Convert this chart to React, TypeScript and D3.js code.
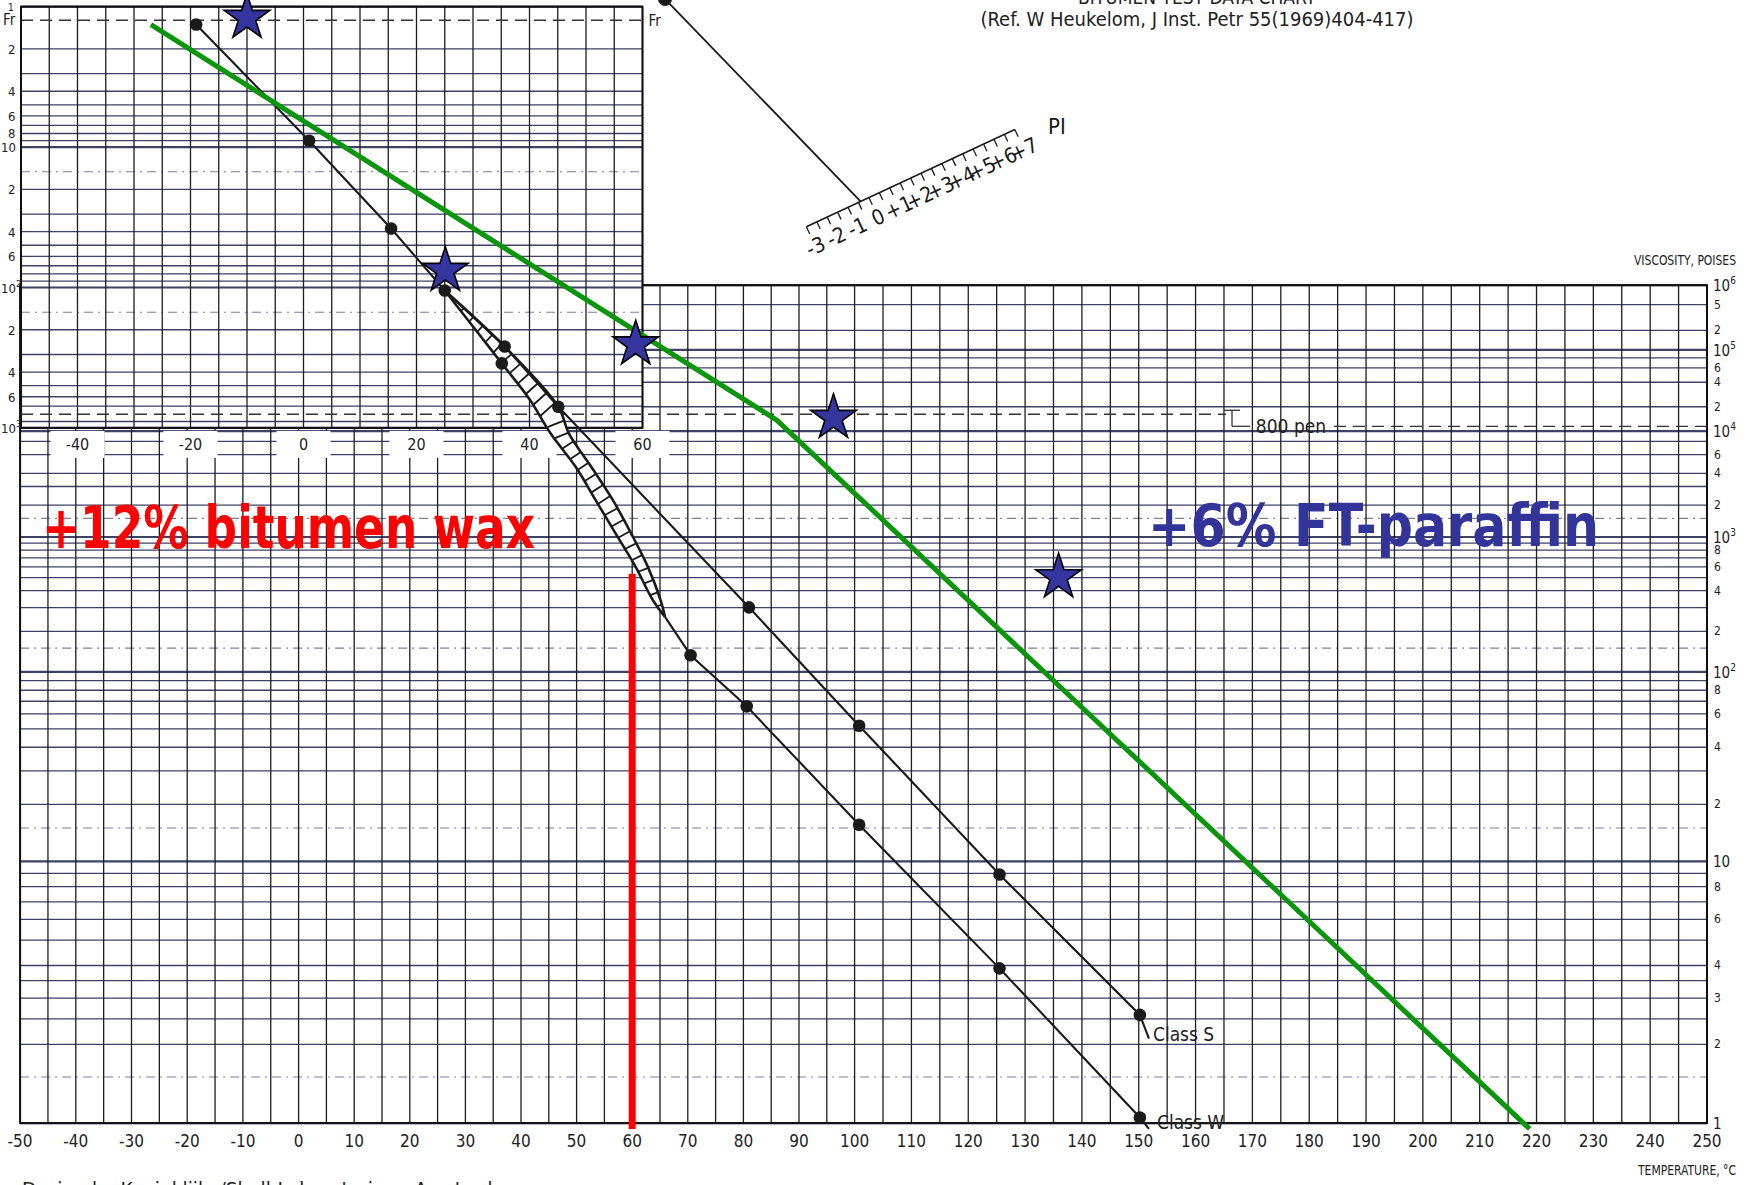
import React, { useEffect } from "react";
import * as d3 from "d3";

// ---------------- data ----------------
const bottomTempLabels = [-50, -40, -30, -20, -10, 0, 10, 20, 30, 40, 50, 60, 70, 80, 90, 100, 110, 120, 130, 140, 150, 160, 170, 180, 190, 200, 210, 220, 230, 240, 250];
const topTempLabels = [-40, -20, 0, 20, 40, 60];

// penetration axis labels (upper-left box)  [value, text, superscript]
const penLabels: [number, string, string][] = [
  [2, "2", ""], [4, "4", ""], [6, "6", ""], [8, "8", ""], [10, "10", ""],
  [20, "2", ""], [40, "4", ""], [60, "6", ""], [100, "10", "2"],
  [200, "2", ""], [400, "4", ""], [600, "6", ""], [1000, "10", "3"],
];
const penGridSteps = [2, 3, 4, 5, 6, 7, 8, 9];
const penDashDot = [15, 150];
const fraassPen = 1.25;
const pen800 = 800;

// viscosity axis (poises)
const viscDecadeLabels: [number, string, string][] = [
  [1, "1", ""], [10, "10", ""], [100, "10", "2"], [1000, "10", "3"],
  [1e4, "10", "4"], [1e5, "10", "5"], [1e6, "10", "6"],
];
const viscMinorLabels: [number, string][] = [
  [2, "2"], [3, "3"], [4, "4"], [6, "6"], [8, "8"],
  [20, "2"], [40, "4"], [60, "6"], [80, "8"],
  [200, "2"], [400, "4"], [600, "6"], [800, "8"],
  [2000, "2"], [4000, "4"], [6000, "6"],
  [2e4, "2"], [4e4, "4"], [6e4, "6"],
  [2e5, "2"], [5e5, "5"],
];
const viscGridSteps = [
  [1.5, 2, 2.5, 3, 3.5, 4, 5, 6, 7, 8, 9],
  [1.5, 2, 3, 4, 5, 6, 7, 8, 9],
  [1.5, 2, 3, 4, 5, 6, 7, 8, 9],
  [1.5, 2, 3, 4, 6, 8],
  [2, 4, 6, 8],
  [2, 5],
];

// upper-box points: [temperature on top scale °C, penetration 0.1 mm]
// lower-chart points: [temperature °C, viscosity poise]
const classSPenDots: [number, number][] = [[-19, 1.34], [1, 9], [15.5, 38], [25, 105], [35.6, 263], [45.1, 707]];
const classSViscDots: [number, number][] = [[81, 301], [100.8, 52], [125.5, 8.9], [150.2, 2.59]];
const classSViscEnd: [number, number] = [151.8, 2.1];

const classWPenDots: [number, number][] = [[35.1, 347]];
const classWViscDots: [number, number][] = [[70.5, 133], [80.6, 65.8], [100.8, 15.6], [125.5, 3.9], [150.2, 1.05]];
const classWViscEnd: [number, number] = [151.8, 0.95];

const bandLeftPen: [number, number][] = [[25, 105], [35.1, 347], [40.1, 633]];
const bandLeftVisc: [number, number][] = [[45.3, 9550], [49.8, 4630], [53.4, 2240], [57.0, 1083], [60.6, 603], [63.7, 341], [65.9, 256]];
const bandRightPen: [number, number][] = [[25, 105], [35.6, 263], [45.1, 707]];
const bandRightVisc: [number, number][] = [[48.6, 9550], [52.6, 4630], [56.5, 2240], [59.8, 1083], [62.8, 603], [65.1, 341], [65.9, 256]];

const greenPen: [number, number][] = [[-27, 1.34]];
const greenVisc: [number, number][] = [[86, 13700], [218.8, 0.95]];

const starsPen: [number, number][] = [[-10, 1.2], [25.1, 76], [58.8, 254]];
const starsVisc: [number, number][] = [[96.2, 14600], [135.9, 504]];

const redLineTemp = 60;
const redLineVisc: [number, number] = [533, 0.95];

const piTickValues = d3.range(-3, 7.01, 0.5);
const piLabelValues = [-3, -2, -1, 0, 1, 2, 3, 4, 5, 6, 7];
const piReading = -0.4;

// ---------------- scales ----------------
const W = 1747;
const H = 1185;
const xBot = d3.scaleLinear().domain([-50, 0, 100, 250]).range([20.1, 298.6, 854.6, 1707]);
const xTop = d3.scaleLinear().domain([-50, 60]).range([21, 642.5]);
const yPen = d3.scaleLog().domain([1, 1000]).range([6.7, 427.9]);
const yViscLog = d3.scaleLinear().domain([0, 1, 2, 3, 4, 5, 6]).range([1123.1, 861.3, 671.9, 537.0, 431.2, 349.9, 285.2]);
const yVisc = (v: number) => yViscLog(Math.log10(v));

const penPt = (d: [number, number]): [number, number] => [xTop(d[0]), yPen(d[1])];
const viscPt = (d: [number, number]): [number, number] => [xBot(d[0]), yVisc(d[1])];

const FONT = "'Liberation Sans Narrow','DejaVu Sans Condensed','Liberation Sans',sans-serif";
const COMIC = "'Comic Sans MS','DejaVu Sans',sans-serif";
const HCOL = "#2b2d55";
const VCOL = "#1d1d22";

function resample(pts: [number, number][], n: number): [number, number][] {
  const seg: number[] = [];
  let total = 0;
  for (let i = 1; i < pts.length; i++) {
    const l = Math.hypot(pts[i][0] - pts[i - 1][0], pts[i][1] - pts[i - 1][1]);
    seg.push(l);
    total += l;
  }
  const out: [number, number][] = [];
  for (let k = 0; k <= n; k++) {
    let target = (total * k) / n;
    let i = 0;
    while (i < seg.length - 1 && target > seg[i]) {
      target -= seg[i];
      i++;
    }
    const f = seg[i] ? Math.min(1, target / seg[i]) : 0;
    out.push([pts[i][0] + (pts[i + 1][0] - pts[i][0]) * f, pts[i][1] + (pts[i + 1][1] - pts[i][1]) * f]);
  }
  return out;
}

function closestOnPolyline(p: [number, number], poly: [number, number][]): [number, number] {
  let best: [number, number] = poly[0];
  let bd = Infinity;
  for (let i = 1; i < poly.length; i++) {
    const a = poly[i - 1], b = poly[i];
    const dx = b[0] - a[0], dy = b[1] - a[1];
    const len2 = dx * dx + dy * dy || 1;
    let t = ((p[0] - a[0]) * dx + (p[1] - a[1]) * dy) / len2;
    t = Math.max(0, Math.min(1, t));
    const q: [number, number] = [a[0] + dx * t, a[1] + dy * t];
    const d = Math.hypot(q[0] - p[0], q[1] - p[1]);
    if (d < bd) {
      bd = d;
      best = q;
    }
  }
  return best;
}

const line = d3.line<[number, number]>();
const smooth = d3.line<[number, number]>().curve(d3.curveCatmullRom.alpha(0.5));

export default function App() {
  useEffect(() => {
    document.body.style.margin = "0";
  }, []);

  const lowerLeft = xBot(-50);
  const lowerRight = xBot(250);
  const lowerTop = yVisc(1e6);
  const lowerBottom = yVisc(1);
  const boxLeft = xTop(-50);
  const boxRight = xTop(60);
  const boxTop = yPen(1);
  const boxBottom = yPen(1000);

  const hLines: { y: number; w: number; dash?: string }[] = [];
  for (let dec = 0; dec <= 6; dec++) {
    hLines.push({ y: yVisc(Math.pow(10, dec)), w: 2.2 });
    if (dec < 6) {
      viscGridSteps[dec].forEach((m) => {
        hLines.push({ y: yVisc(m * Math.pow(10, dec)), w: m === 1.5 ? 1.1 : 1.3, dash: m === 1.5 ? "9 5 2 5" : undefined });
      });
    }
  }
  const vTemps = d3.range(-50, 251, 5);
  const topTemps = d3.range(-50, 61, 5);

  const penLines: { y: number; w: number; dash?: string }[] = [];
  [1, 10, 100, 1000].forEach((d) => penLines.push({ y: yPen(d), w: 2.2 }));
  [1, 10, 100].forEach((d) => penGridSteps.forEach((m) => {
    if (m * d !== pen800) penLines.push({ y: yPen(m * d), w: 1.3 });
  }));
  penDashDot.forEach((v) => penLines.push({ y: yPen(v), w: 1.1, dash: "9 5 2 5" }));

  const sPath: [number, number][] = [...classSPenDots.map(penPt), ...classSViscDots.map(viscPt), viscPt(classSViscEnd)];
  const wPath: [number, number][] = [viscPt(bandLeftVisc[bandLeftVisc.length - 1]), ...classWViscDots.map(viscPt), viscPt(classWViscEnd)];
  const leftEdge: [number, number][] = [...bandLeftPen.map(penPt), ...bandLeftVisc.map(viscPt)];
  const rightEdge: [number, number][] = [...bandRightPen.map(penPt), ...bandRightVisc.map(viscPt)];
  const nR = 30;
  const L = resample(leftEdge, nR);
  const rungs = L.slice(1, -1).map((p) => [p, closestOnPolyline(p, rightEdge)] as [[number, number], [number, number]]);
  const bandPoly = [...leftEdge, ...rightEdge.slice().reverse()];

  const greenPath: [number, number][] = [...greenPen.map(penPt), ...greenVisc.map(viscPt)];
  const starPts: [number, number][] = [...starsPen.map(penPt), ...starsVisc.map(viscPt)];
  const starPath = d3.symbol().type(d3.symbolStar).size((24 * 24) / 0.8908130915292852)() as string;

  const ang = (25 * Math.PI) / 180;
  const ca = Math.cos(ang), sa = Math.sin(ang);
  const ox = 810, oy = 225;
  const piScale = d3.scaleLinear().domain([-3, 7]).range([-4, 226]);
  const along = (d: number): [number, number] => [ox + d * ca, oy - d * sa];
  const nd: [number, number] = [sa, ca];
  const piHit = along(piScale(piReading));
  const rulerA = along(piScale(-3));
  const rulerB = along(piScale(7));

  const y800 = yPen(pen800);

  return (
    <svg width={W} height={H} style={{ position: "absolute", left: 0, top: 0, display: "block", background: "#fff" }}>
      <rect x={0} y={0} width={W} height={H} fill="#fff" />

      {/* lower chart grid */}
      <g>
        {hLines.map((l, i) => (
          <line key={"h" + i} x1={lowerLeft} x2={lowerRight} y1={l.y} y2={l.y} stroke={HCOL} strokeWidth={l.w} strokeDasharray={l.dash} opacity={l.dash ? 0.6 : 0.9} />
        ))}
        {vTemps.map((t) => (
          <line key={"v" + t} x1={xBot(t)} x2={xBot(t)} y1={lowerTop} y2={lowerBottom} stroke={VCOL} strokeWidth={1.3} />
        ))}
        <rect x={lowerLeft} y={lowerTop} width={lowerRight - lowerLeft} height={lowerBottom - lowerTop} fill="none" stroke="#111" strokeWidth={2} />
      </g>

      {/* upper penetration box */}
      <g>
        <rect x={boxLeft} y={boxTop} width={boxRight - boxLeft} height={boxBottom - boxTop} fill="#fff" />
        {penLines.map((l, i) => (
          <line key={"p" + i} x1={boxLeft} x2={boxRight} y1={l.y} y2={l.y} stroke={HCOL} strokeWidth={l.w} strokeDasharray={l.dash} opacity={l.dash ? 0.6 : 0.9} />
        ))}
        {topTemps.map((t) => (
          <line key={"tv" + t} x1={xTop(t)} x2={xTop(t)} y1={boxTop} y2={boxBottom} stroke={VCOL} strokeWidth={1.3} />
        ))}
        <line x1={boxLeft} x2={boxRight} y1={yPen(fraassPen)} y2={yPen(fraassPen)} stroke="#333" strokeWidth={1.5} strokeDasharray="12 7" />
        <rect x={boxLeft} y={boxTop} width={boxRight - boxLeft} height={boxBottom - boxTop} fill="none" stroke="#111" strokeWidth={2} />
        <text x={boxRight + 6} y={yPen(fraassPen) + 6} fontFamily={FONT} fontSize={15} fill="#222">Fr</text>
      </g>

      {/* 800 pen dashed line */}
      <g>
        <line x1={boxLeft} x2={1226} y1={y800} y2={y800} stroke="#333" strokeWidth={1.5} strokeDasharray="12 7" />
        <line x1={1232} x2={1232} y1={y800 - 4} y2={y800 + 12} stroke="#333" strokeWidth={1.3} />
        <line x1={1224} x2={1240} y1={y800 - 4} y2={y800 - 4} stroke="#333" strokeWidth={1.3} />
        <line x1={1232} x2={1250} y1={y800 + 12} y2={y800 + 12} stroke="#333" strokeWidth={1.3} />
        <text x={1291} y={y800 + 19} fontFamily={FONT} fontSize={19} fill="#222" textAnchor="middle">800 pen</text>
        <line x1={1334} x2={W - 40} y1={y800 + 12} y2={y800 + 12} stroke="#333" strokeWidth={1.3} strokeDasharray="12 7" />
      </g>

      {/* top temperature labels in white boxes */}
      <g>
        {topTempLabels.map((t) => (
          <g key={"tt" + t}>
            <rect x={xTop(t) - 27} y={boxBottom + 3} width={54} height={27} fill="#fff" />
            <text x={xTop(t)} y={boxBottom + 22} fontFamily={FONT} fontSize={16} fill="#222" textAnchor="middle">{t}</text>
          </g>
        ))}
      </g>

      {/* left penetration labels */}
      <g fontFamily={FONT} fill="#222">
        <text x={8} y={boxTop + 4} fontSize={10}>1</text>
        <text x={3} y={yPen(fraassPen) + 5} fontSize={15}>Fr</text>
        {penLabels.map(([v, t, s]) => (
          <text key={"pl" + v} x={t.length > 1 ? 1 : 8} y={yPen(v) + 5} fontSize={13}>
            {t}
            {s && <tspan dy={-6} fontSize={9}>{s}</tspan>}
          </text>
        ))}
      </g>

      {/* right viscosity labels */}
      <g fontFamily={FONT} fill="#222">
        {viscDecadeLabels.map(([v, t, s]) => (
          <text key={"vd" + v} x={lowerRight + 6} y={yVisc(v) + 6} fontSize={15}>
            {t}
            {s && <tspan dy={-7} fontSize={10}>{s}</tspan>}
          </text>
        ))}
        {viscMinorLabels.map(([v, t]) => (
          <text key={"vm" + v} x={lowerRight + 7} y={yVisc(v) + 4} fontSize={12}>{t}</text>
        ))}
        <text x={1736} y={265} fontSize={14} textAnchor="end" textLength={102} lengthAdjust="spacingAndGlyphs">VISCOSITY, POISES</text>
      </g>

      {/* bottom temperature labels */}
      <g fontFamily={FONT} fill="#222" textAnchor="middle">
        {bottomTempLabels.map((t) => (
          <text key={"bt" + t} x={xBot(t)} y={lowerBottom + 24} fontSize={17}>{t}</text>
        ))}
        <text x={1736} y={1175} fontSize={14} textAnchor="end" textLength={98} lengthAdjust="spacingAndGlyphs">TEMPERATURE, °C</text>
      </g>

      {/* titles */}
      <g fontFamily={FONT} fill="#222">
        <text x={1197} y={4} fontSize={19} textAnchor="middle">BITUMEN TEST DATA CHART</text>
        <text x={1197} y={26} fontSize={19} textAnchor="middle" textLength={433} lengthAdjust="spacingAndGlyphs">(Ref. W Heukelom, J Inst. Petr 55(1969)404-417)</text>
        <text x={22} y={1196} fontSize={19} textLength={500} lengthAdjust="spacingAndGlyphs">Design by Koninklijke/Shell-Laboratorium, Amsterdam</text>
      </g>

      {/* PI nomograph */}
      <g stroke="#1a1a1a" fill="none">
        <line x1={665} y1={-1} x2={piHit[0]} y2={piHit[1]} strokeWidth={1.8} />
        <line x1={rulerA[0]} y1={rulerA[1]} x2={rulerB[0]} y2={rulerB[1]} strokeWidth={1.6} />
        {piTickValues.map((v) => {
          const p = along(piScale(v));
          return <line key={"pt" + v} x1={p[0]} y1={p[1]} x2={p[0] + 8 * nd[0]} y2={p[1] + 8 * nd[1]} strokeWidth={1.3} />;
        })}
      </g>
      <circle cx={665} cy={-1} r={7} fill="#1a1a1a" />
      <g fontFamily={FONT} fill="#1a1a1a" textAnchor="middle">
        {piLabelValues.map((v) => {
          const p = along(piScale(v));
          const x = p[0] + 22 * nd[0];
          const y = p[1] + 22 * nd[1];
          return (
            <text key={"pl" + v} x={x} y={y} fontSize={21} dominantBaseline="central" transform={`rotate(-25 ${x} ${y})`}>
              {v > 0 ? "+" + v : String(v)}
            </text>
          );
        })}
        <text x={1048} y={134} fontSize={22} textAnchor="start">PI</text>
      </g>

      {/* hatched band */}
      <g>
        <path d={line(bandPoly) + "Z"} fill="#fff" stroke="none" />
        {rungs.map(([a, b], i) => (
          <line key={"r" + i} x1={a[0]} y1={a[1]} x2={b[0]} y2={b[1]} stroke="#1a1a1a" strokeWidth={1.8} />
        ))}
        <path d={smooth(leftEdge) as string} fill="none" stroke="#1a1a1a" strokeWidth={2.6} />
        <path d={smooth(rightEdge) as string} fill="none" stroke="#1a1a1a" strokeWidth={2.6} />
      </g>

      {/* class lines */}
      <g fill="none" stroke="#1a1a1a" strokeWidth={2.1}>
        <path d={line(sPath) as string} />
        <path d={line(wPath) as string} />
      </g>
      <g fill="#1a1a1a">
        {[...classSPenDots.map(penPt), ...classWPenDots.map(penPt), ...classSViscDots.map(viscPt), ...classWViscDots.map(viscPt)].map((p, i) => (
          <circle key={"d" + i} cx={p[0]} cy={p[1]} r={6.3} />
        ))}
      </g>
      <g fontFamily={FONT} fontSize={19} fill="#222">
        <text x={viscPt(classSViscEnd)[0] + 4} y={viscPt(classSViscEnd)[1] + 2}>Class S</text>
        <text x={viscPt(classWViscEnd)[0] + 8} y={viscPt(classWViscEnd)[1]}>Class W</text>
      </g>

      {/* red line */}
      <line x1={xBot(redLineTemp)} x2={xBot(redLineTemp)} y1={yVisc(redLineVisc[0])} y2={yVisc(redLineVisc[1])} stroke="#ff0000" strokeWidth={7} />

      {/* green line */}
      <path d={line(greenPath) as string} fill="none" stroke="#0a960a" strokeWidth={5} strokeLinejoin="round" />

      {/* stars */}
      <g>
        {starPts.map((p, i) => (
          <path key={"s" + i} d={starPath} transform={`translate(${p[0]},${p[1]})`} fill="#34359f" stroke="#000" strokeWidth={1.6} />
        ))}
      </g>

      {/* annotations */}
      <text x={42} y={548} fontFamily={COMIC} fontWeight="bold" fontSize={58} fill="#ff0000" textLength={493} lengthAdjust="spacingAndGlyphs">+12% bitumen wax</text>
      <text x={1148} y={546} fontFamily={COMIC} fontWeight="bold" fontSize={58} fill="#32349a" textLength={451} lengthAdjust="spacingAndGlyphs">+6% FT-paraffin</text>
    </svg>
  );
}
